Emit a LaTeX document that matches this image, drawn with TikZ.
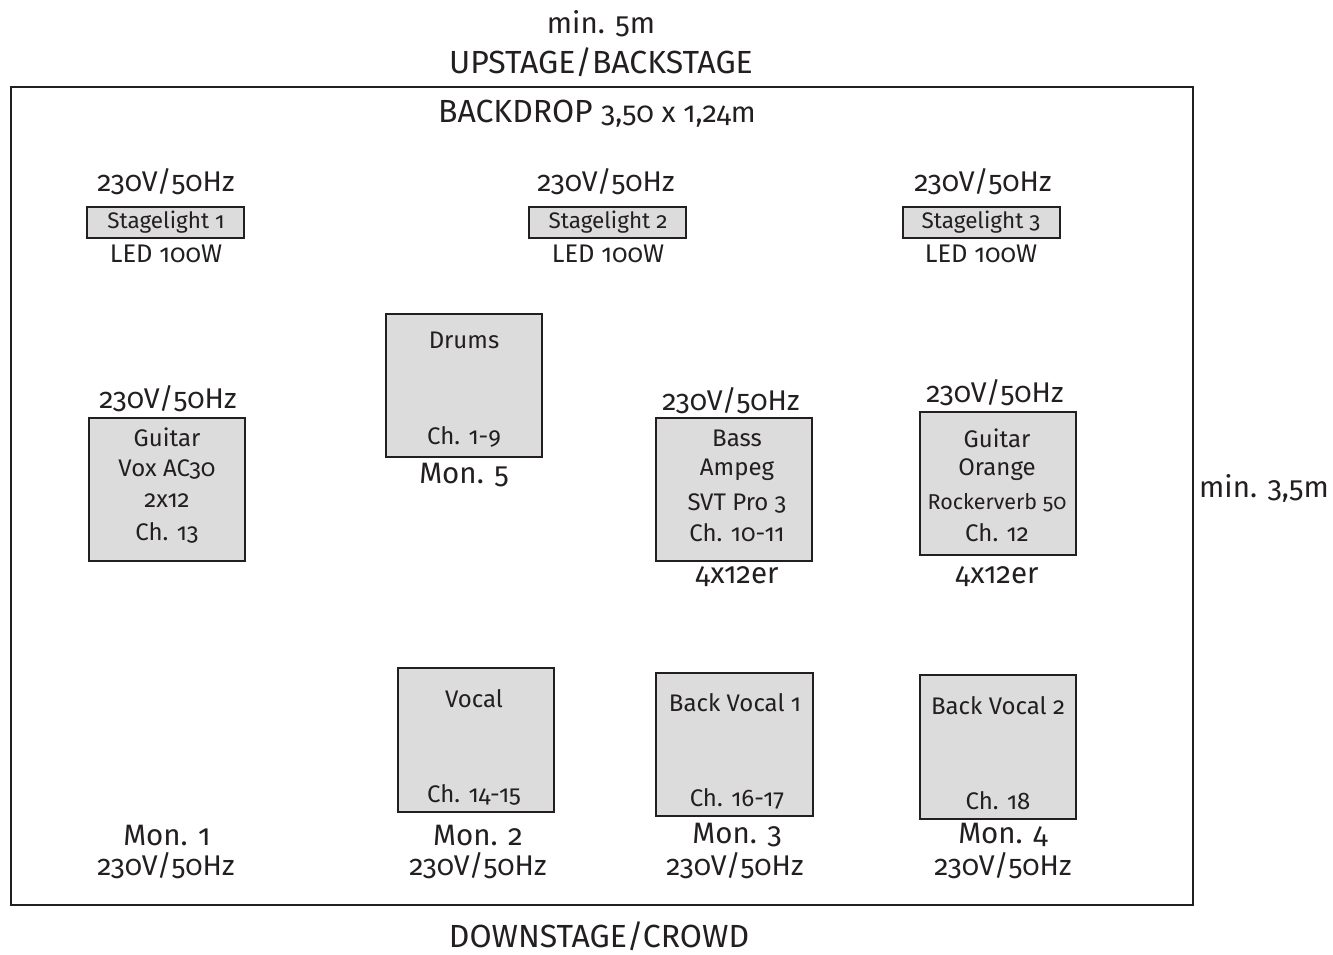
\documentclass[tikz,border=0pt]{standalone}
\usepackage{fontspec}
\setmainfont{Fira Sans}[Numbers=OldStyle]
\definecolor{boxfill}{HTML}{DCDCDC}
\definecolor{ink}{HTML}{231F20}
\begin{document}
\begin{tikzpicture}[x=1pt,y=-1pt,
  big/.style={inner sep=0pt,text=ink,font=\fontsize{28.5}{30}\selectfont},
  caps/.style={inner sep=0pt,text=ink,font=\fontsize{32}{34}\selectfont},
  mon/.style={inner sep=0pt,text=ink,font=\fontsize{29.5}{31}\selectfont},
  mid/.style={inner sep=0pt,text=ink,font=\fontsize{24}{26}\selectfont},
  slt/.style={inner sep=0pt,text=ink,font=\fontsize{22.5}{24}\selectfont},
  sml/.style={inner sep=0pt,text=ink,font=\fontsize{25.5}{27}\selectfont},
  unit/.style={draw=ink,line width=2pt,fill=boxfill}]
\useasboundingbox (0,0) rectangle (1333,954);
\draw[draw=ink,line width=2pt] (11,87) rectangle (1193,905);
\node[mon] (min5) at (601,24) {min. 5m};
\node[caps] (up) at (601,62) {UPSTAGE/BACKSTAGE};
\node[caps] (bd) at (597,114) {BACKDROP {\fontsize{29}{30}\selectfont 3,50 x 1,24m}};
\node[caps] (down) at (599,936) {DOWNSTAGE/CROWD};
\node[mon] (min35) at (1264,488) {min. 3,5m};
% stagelights
\foreach \n/\x/\cx/\px in {1/87/166/166,2/529/608/606,3/903/981/983}{
  \draw[unit] (\x,207) rectangle ++(157,31);
  \node[slt] (sl\n) at (\cx,222) {Stagelight \n};
  \node[big] (slp\n) at (\px,182) {230V/50Hz};
  \node[sml] (led\n) at (\cx,254) {LED 100W};
}
% guitar vox
\draw[unit] (89,418) rectangle (245,561);
\node[big] (gvp) at (168,399) {230V/50Hz};
\node[mid] (gv1) at (167,437) {Guitar};
\node[mid] (gv2) at (167,469) {Vox AC30};
\node[mid] (gv3) at (167,501) {2x12};
\node[mid] (gv4) at (167,533) {Ch. 13};
% drums
\draw[unit] (386,314) rectangle (542,457);
\node[mid] (dr1) at (464,340) {Drums};
\node[mid] (dr2) at (464,437) {Ch. 1-9};
\node[mon] (mon5) at (464,475) {Mon. 5};
% bass
\draw[unit] (656,418) rectangle (812,561);
\node[big] (bp) at (731,401) {230V/50Hz};
\node[mid] (b1) at (737,438) {Bass};
\node[mid] (b2) at (737,470) {Ampeg};
\node[mid] (b3) at (737,503) {SVT Pro 3};
\node[mid] (b4) at (737,533) {Ch. 10-11};
\node[mon] (bc) at (737,577) {4x12er};
% guitar orange
\draw[unit] (920,412) rectangle (1076,555);
\node[big] (gop) at (995,393) {230V/50Hz};
\node[mid] (go1) at (997,438) {Guitar};
\node[mid] (go2) at (997,470) {Orange};
\node[mid,font=\fontsize{21.5}{23}\selectfont] (go3) at (997,503) {Rockerverb 50};
\node[mid] (go4) at (997,533) {Ch. 12};
\node[mon] (goc) at (997,577) {4x12er};
% vocals
\draw[unit] (398,668) rectangle (554,812);
\node[mid] (v1) at (474,699) {Vocal};
\node[mid] (v2) at (474,795) {Ch. 14-15};
\draw[unit] (656,673) rectangle (813,816);
\node[mid] (bv1) at (735,703) {Back Vocal 1};
\node[mid] (bv1c) at (737,799) {Ch. 16-17};
\draw[unit] (920,675) rectangle (1076,819);
\node[mid] (bv2) at (998,706) {Back Vocal 2};
\node[mid] (bv2c) at (998,801) {Ch. 18};
% monitors
\node[mon] (m1) at (167,835) {Mon. 1};
\node[big] (m1p) at (166,866) {230V/50Hz};
\node[mon] (m2) at (478,835) {Mon. 2};
\node[big] (m2p) at (478,866) {230V/50Hz};
\node[mon] (m3) at (737,835) {Mon. 3};
\node[big] (m3p) at (735,866) {230V/50Hz};
\node[mon] (m4) at (1003,835) {Mon. 4};
\node[big] (m4p) at (1003,866) {230V/50Hz};
\end{tikzpicture}
\end{document}
